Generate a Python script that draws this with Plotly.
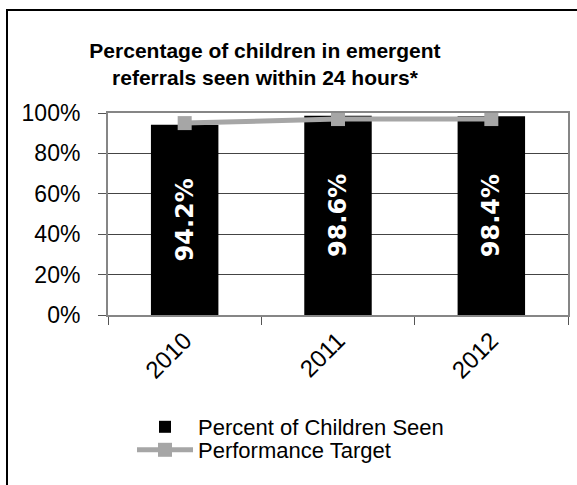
import plotly.graph_objects as go

years = ["2010", "2011", "2012"]
percent_seen = [0.942, 0.986, 0.984]
performance_target = [0.95, 0.97, 0.97]
y_ticks = [0, 0.2, 0.4, 0.6, 0.8, 1.0]
y_tick_labels = ["0%", "20%", "40%", "60%", "80%", "100%"]

W, H = 577, 485
L, R, T, B = 108, W - 568, 113, H - 315
pw, ph = W - L - R, H - T - B


def px_x(sx):
    return (sx - L) / pw


def px_y(sy):
    return (H - B - sy) / ph


fig = go.Figure()
fig.add_trace(go.Bar(
    x=years, y=percent_seen, name="Percent of Children Seen",
    marker=dict(color="black", line=dict(width=0)),
    width=0.44,
    texttemplate="%{y:.1%}", textposition="inside", textangle=-90,
    insidetextanchor="middle",
    textfont=dict(family="DejaVu Sans", size=24, color="white", weight="bold"),
    legend="legend",
))
fig.add_trace(go.Scatter(
    x=years, y=performance_target, name="Performance Target",
    mode="lines+markers",
    line=dict(color="#A6A6A6", width=5),
    marker=dict(symbol="square", size=14, color="#A6A6A6"),
    legend="legend2",
))

# outer chart border (extends beyond the visible area at right/bottom)
fig.add_shape(type="rect", xref="paper", yref="paper",
              x0=px_x(7), x1=px_x(600), y0=px_y(510), y1=px_y(10),
              line=dict(color="black", width=2), fillcolor="rgba(0,0,0,0)")

legend_common = dict(
    orientation="v", xanchor="left", yanchor="middle",
    font=dict(size=22, color="black", family="Liberation Sans"),
    itemwidth=56, bgcolor="rgba(0,0,0,0)",
)

fig.update_layout(
    width=W, height=H,
    margin=dict(l=L, r=R, t=T, b=B, autoexpand=False),
    paper_bgcolor="white", plot_bgcolor="white",
    font=dict(family="Liberation Sans", color="black"),
    title=dict(
        text="Percentage of children in emergent<br>referrals seen within 24 hours*",
        font=dict(family="Liberation Sans", size=21, color="black", weight="bold"),
        xref="paper", x=px_x(265), xanchor="center",
        yref="container", y=1 - 58 / H, yanchor="top",
    ),
    showlegend=True,
    legend=dict(x=px_x(132), y=px_y(427), **legend_common),
    legend2=dict(x=px_x(132), y=px_y(450), **legend_common),
    bargap=0.56,
)
fig.update_yaxes(
    range=[0, 1], tickvals=y_ticks, ticktext=y_tick_labels,
    ticks="outside", ticklen=8, tickcolor="#555555",
    showgrid=True, gridcolor="#444444", gridwidth=1,
    showline=True, linecolor="#868686", linewidth=2, mirror=True,
    tickfont=dict(size=23, color="black"), ticklabelstandoff=13,
    zeroline=False, fixedrange=True, automargin=False,
)
fig.update_xaxes(
    type="category", tickangle=-45,
    ticks="outside", ticklen=8, tickcolor="#555555", tickson="boundaries",
    showline=True, linecolor="#868686", linewidth=2, mirror=True,
    tickfont=dict(size=24, color="black"),
    showgrid=False, automargin=False, fixedrange=True,
)

fig.write_html(
    "out.html",
    config={"displayModeBar": False},
    post_script="document.body.style.margin='0';document.body.style.overflow='hidden';",
)
